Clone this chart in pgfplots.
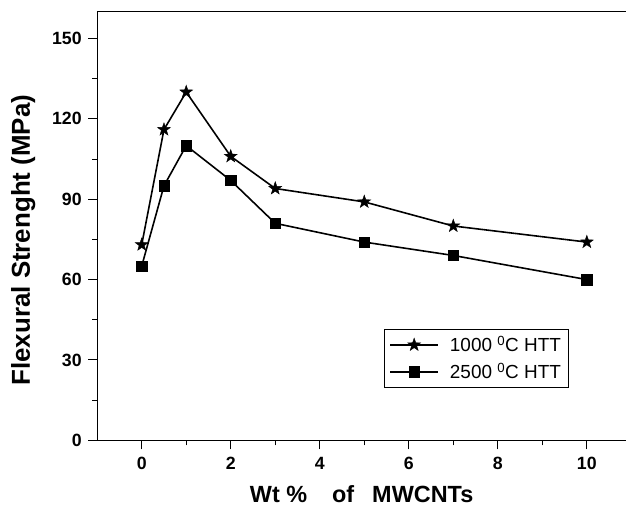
\documentclass[border=0pt]{standalone}
\usepackage{fontspec}
\setmainfont{Liberation Sans}
\usepackage{pgfplots}
\pgfplotsset{compat=1.18}
\pgfdeclareplotmark{fivestar}{%
  \pgfpathmoveto{\pgfpointpolar{90}{\pgfplotmarksize}}%
  \pgfpathlineto{\pgfpointpolar{126}{0.40\pgfplotmarksize}}%
  \pgfpathlineto{\pgfpointpolar{162}{\pgfplotmarksize}}%
  \pgfpathlineto{\pgfpointpolar{198}{0.40\pgfplotmarksize}}%
  \pgfpathlineto{\pgfpointpolar{234}{\pgfplotmarksize}}%
  \pgfpathlineto{\pgfpointpolar{270}{0.40\pgfplotmarksize}}%
  \pgfpathlineto{\pgfpointpolar{306}{\pgfplotmarksize}}%
  \pgfpathlineto{\pgfpointpolar{342}{0.40\pgfplotmarksize}}%
  \pgfpathlineto{\pgfpointpolar{18}{\pgfplotmarksize}}%
  \pgfpathlineto{\pgfpointpolar{54}{0.40\pgfplotmarksize}}%
  \pgfpathclose
  \pgfusepathqfillstroke}
\begin{document}
\begin{tikzpicture}[x=1bp,y=1bp]
\useasboundingbox (-97.2bp,-68.7bp) rectangle (528.8bp,440.3bp);
\begin{axis}[
  at={(0,0)}, anchor=south west,
  scale only axis,
  width=528.8bp, height=428.6bp,
  xmin=-1, xmax=10.88,
  ymin=0, ymax=160,
  axis x line=box,
  axis y line=left,
  axis line style={-, line width=1.4pt},
  xtick={0,2,4,6,8,10},
  minor xtick={1,3,5,7,9},
  ytick={0,30,60,90,120,150},
  minor ytick={15,45,75,105,135},
  xtick pos=bottom,
  tick align=outside,
  major tick length=9bp,
  minor tick length=5bp,
  tick style={black, line width=1pt},
  /pgf/number format/assume math mode=true,
  ticklabel style={font=\bfseries\fontsize{17.8}{20}\selectfont},
  xticklabel style={yshift=-4bp},
  yticklabel style={xshift=-3bp},
  xlabel={Wt \%\hspace{25bp}of\hspace{18bp}MWCNTs},
  ylabel={Flexural Strenght (MPa)},
  xlabel style={font=\bfseries\fontsize{23.5}{27}\selectfont, at={(axis description cs:0.5,-0.146)}, anchor=base, inner sep=0pt},
  ylabel style={font=\bfseries\fontsize{26}{30}\selectfont, at={(axis description cs:-0.14,0.467)}, anchor=center},
  legend style={at={(axis cs:5.445,41.5)}, anchor=north west, draw=black, line width=0.6pt,
    font=\fontsize{19}{22}\selectfont, inner xsep=5bp, inner ysep=5bp, row sep=6bp, column sep=9bp},
  legend cell align=left,
  legend image code/.code={\draw[mark repeat=2,mark phase=2] plot coordinates {(0bp,0bp) (24bp,0bp) (48bp,0bp)};},
]
\addplot[black, line width=1.6pt, mark=fivestar, mark options={solid, fill=black, line width=0.4pt}, mark size=6.8bp] coordinates {
  (0,73) (0.5,116) (1,130) (2,106) (3,94) (5,89) (7,80) (10,74)};
\addlegendentry{1000 \textsuperscript{0}C HTT}
\addplot[black, line width=1.6pt, mark=square*, mark options={solid, fill=black, line width=0.4pt}, mark size=5.2bp] coordinates {
  (0,65) (0.5,95) (1,110) (2,97) (3,81) (5,74) (7,69) (10,60)};
\addlegendentry{2500 \textsuperscript{0}C HTT}
\end{axis}
\end{tikzpicture}
\end{document}
